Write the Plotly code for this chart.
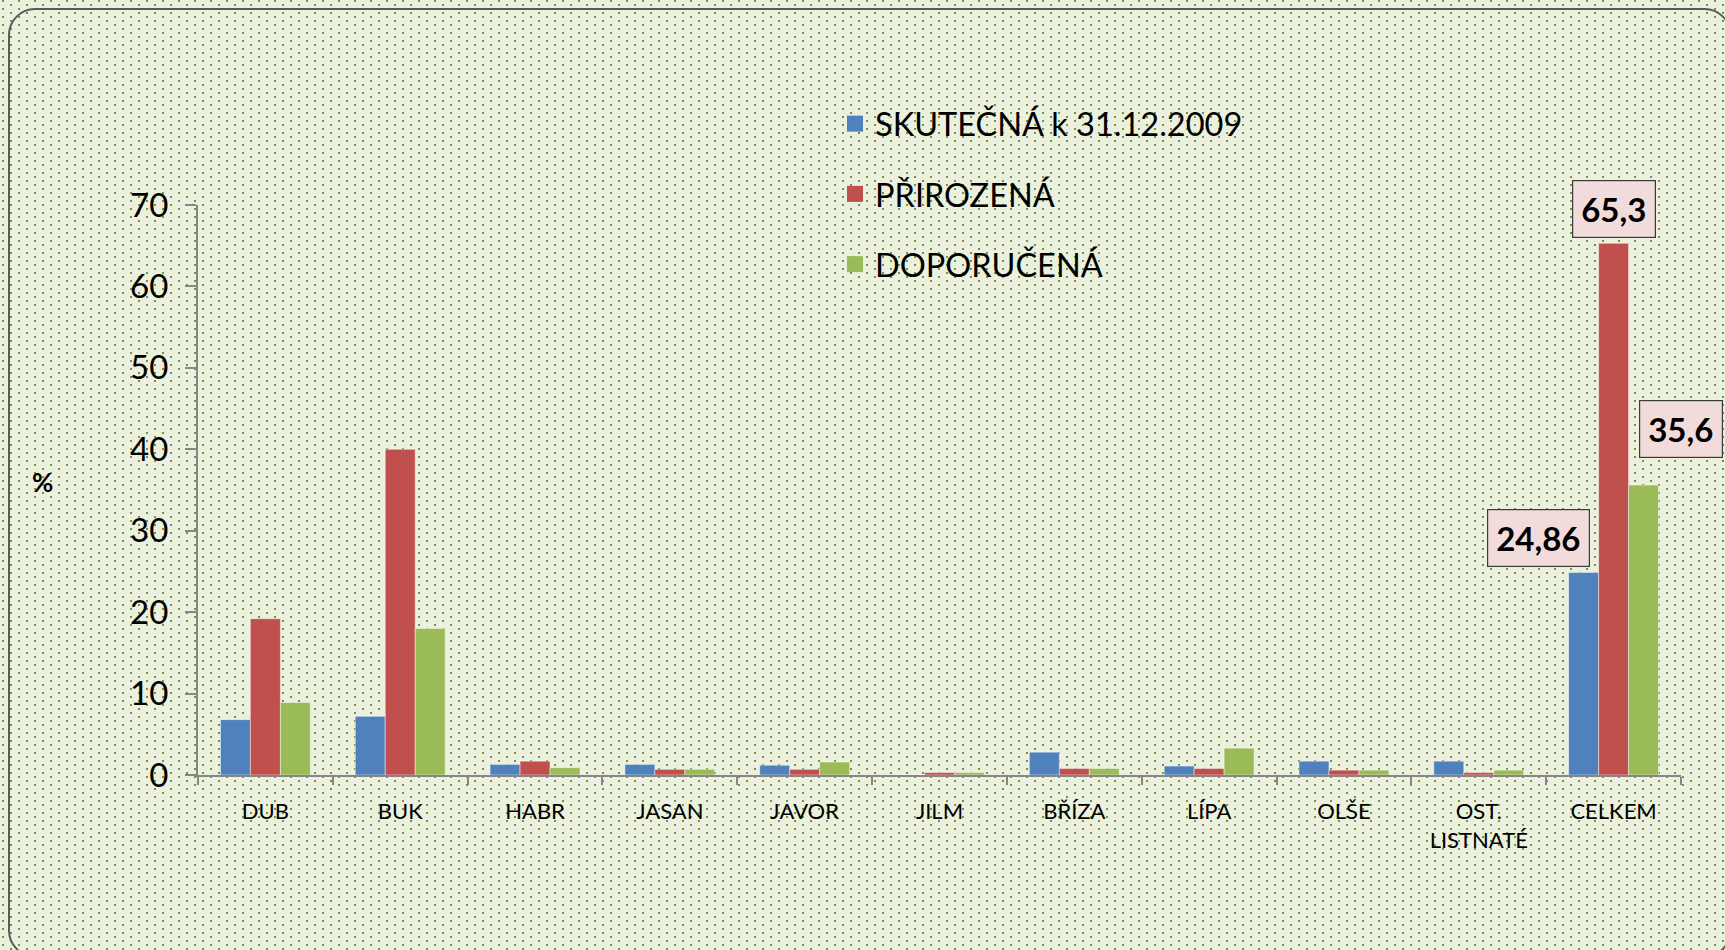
import base64
import plotly.graph_objects as go

categories = ["DUB", "BUK", "HABR", "JASAN", "JAVOR", "JILM", "BŘÍZA", "LÍPA", "OLŠE", "OST.<br>LISTNATÉ", "CELKEM"]
skutecna = [6.8, 7.2, 1.3, 1.3, 1.2, 0.0, 2.8, 1.1, 1.7, 1.7, 24.86]
prirozena = [19.2, 40.0, 1.7, 0.7, 0.7, 0.3, 0.8, 0.8, 0.6, 0.3, 65.3]
doporucena = [8.9, 18.0, 0.9, 0.7, 1.6, 0.3, 0.8, 3.3, 0.6, 0.6, 35.6]
series_names = ["SKUTEČNÁ k 31.12.2009", "PŘIROZENÁ", "DOPORUČENÁ"]
series_colors = ["#4F81BD", "#C0504D", "#9BBB59"]
y_ticks = [0, 10, 20, 30, 40, 50, 60, 70]

W, H = 1725, 950
ML, MR, MT, MB = 198, 44, 205, 175
PW, PH = W - ML - MR, H - MT - MB

svg = f'''<svg xmlns="http://www.w3.org/2000/svg" width="{W}" height="{H}" viewBox="0 0 {W} {H}">
<defs><pattern id="p" x="10" y="4" width="16" height="8" patternUnits="userSpaceOnUse">
<rect x="0" y="0" width="2" height="2" fill="#76923C"/><rect x="8" y="4" width="2" height="2" fill="#76923C"/>
</pattern></defs>
<rect width="{W}" height="{H}" fill="#EBF1DE"/>
<rect width="{W}" height="{H}" fill="url(#p)"/>
<rect x="9" y="9" width="1721.5" height="947.5" rx="26" ry="26" fill="none" stroke="#5A5A5A" stroke-width="2"/>
</svg>'''
uri = "data:image/svg+xml;base64," + base64.b64encode(svg.encode("utf-8")).decode("ascii")

fig = go.Figure()
for i, (name, vals, col) in enumerate(zip(series_names, [skutecna, prirozena, doporucena], series_colors)):
    fig.add_trace(go.Bar(
        x=categories, y=vals, name=name, legendgroup=f"g{i}", showlegend=False,
        marker=dict(color=col, line=dict(color="rgba(255,255,255,0.45)", width=1)),
    ))
    # legend entry with a larger square swatch
    fig.add_trace(go.Scatter(
        x=[None], y=[None], mode="markers", name=name, legendgroup=f"g{i}",
        marker=dict(symbol="square", size=21, color=col), showlegend=True, hoverinfo="skip",
    ))

font = "Lato, 'Open Sans', sans-serif"
label_specs = [
    (skutecna[-1], -75, 35),
    (prirozena[-1], 0, 34),
    (doporucena[-1], 67, 56),
]
annotations = []
for val, xs, ys in label_specs:
    annotations.append(dict(
        x=categories[-1], y=val, xref="x", yref="y", xshift=xs, yshift=ys,
        text=f"<b>{str(val).replace('.', ',')}</b>", showarrow=False,
        font=dict(family=font, size=33, color="black"),
        bgcolor="#F2DCDB", bordercolor="#3A3A3A", borderwidth=1.2, borderpad=8,
        xanchor="center", yanchor="middle",
    ))
annotations.append(dict(
    x=-(ML - 42) / PW, y=1 - (482 - MT) / PH, xref="paper", yref="paper", text="<b>%</b>",
    showarrow=False, font=dict(family=font, size=26, color="black"),
    xanchor="center", yanchor="middle",
))

fig.update_layout(
    width=W, height=H,
    margin=dict(l=ML, r=MR, t=MT, b=MB),
    paper_bgcolor="#EBF1DE", plot_bgcolor="rgba(0,0,0,0)",
    barmode="group", bargap=0.333, bargroupgap=0,
    font=dict(family=font, color="black"),
    showlegend=True,
    legend=dict(
        x=(835 - ML) / PW, y=1 + (MT - 96) / PH, xanchor="left", yanchor="top",
        font=dict(family=font, size=32.5, color="black"),
        bgcolor="rgba(0,0,0,0)", tracegroupgap=25, traceorder="grouped",
        itemsizing="trace",
    ),
    xaxis=dict(
        type="category", range=[-0.5, len(categories) - 0.5], autorange=False,
        showline=True, linecolor="#868686", linewidth=2,
        ticks="outside", ticklen=8, tickwidth=2, tickcolor="#868686",
        tickson="boundaries", showgrid=False, zeroline=False, automargin=False,
        tickfont=dict(family=font, size=22, color="black"), ticklabelstandoff=16,
    ),
    yaxis=dict(
        range=[0, 70], autorange=False, tickvals=y_ticks, showline=True, linecolor="#868686", linewidth=2,
        ticks="outside", ticklen=11, tickwidth=2, tickcolor="#868686",
        showgrid=False, zeroline=False, ticklabelstandoff=10, automargin=False,
        tickfont=dict(family=font, size=33, color="black"),
    ),
    annotations=annotations,
    images=[dict(
        source=uri, xref="paper", yref="paper",
        x=-ML / PW, y=1 + MT / PH, sizex=W / PW, sizey=H / PH,
        xanchor="left", yanchor="top", sizing="stretch", layer="below",
    )],
)

fig.write_html(
    "out.html",
    config={"displayModeBar": False},
    post_script="document.body.style.margin='0';document.body.style.overflow='hidden';",
)
